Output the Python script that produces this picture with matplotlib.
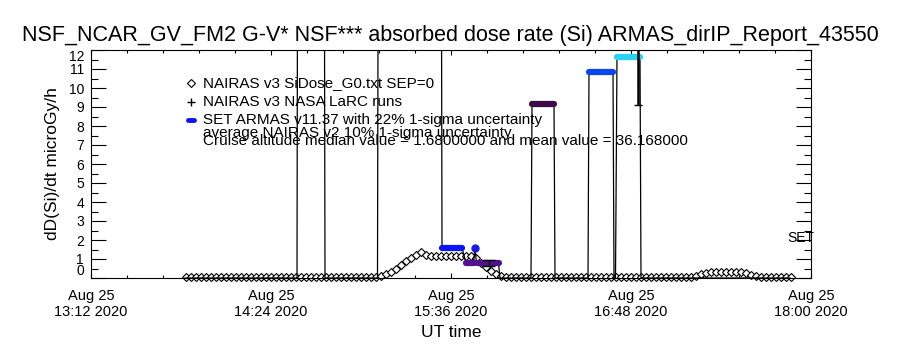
import numpy as np
import matplotlib
matplotlib.use('Agg')
import matplotlib.pyplot as plt
from matplotlib.ticker import MultipleLocator

plt.rcParams['font.family'] = ['Liberation Sans', 'DejaVu Sans']

# time in minutes after 13:12 UT, Aug 25 2020
x_ticks = [0, 72, 144, 216, 288]
x_tick_labels = ['Aug 25\n13:12 2020', 'Aug 25\n14:24 2020', 'Aug 25\n15:36 2020',
                 'Aug 25\n16:48 2020', 'Aug 25\n18:00 2020']
y_ticks = list(range(0, 13))

# NAIRAS v3 SiDose_G0 model, every 2 minutes from t=38 to t=280
nairas_t = np.arange(38, 281, 2)
nairas_v = [0.05, 0.05, 0.05, 0.05, 0.05, 0.05, 0.05, 0.05, 0.05, 0.05,
            0.05, 0.05, 0.05, 0.05, 0.05, 0.05, 0.05, 0.05, 0.05, 0.05,
            0.05, 0.05, 0.05, 0.05, 0.05, 0.05, 0.05, 0.05, 0.05, 0.05,
            0.05, 0.05, 0.05, 0.05, 0.05, 0.05, 0.05, 0.05,
            0.05, 0.12, 0.20, 0.30, 0.50, 0.70, 0.88, 1.05, 1.20, 1.35,
            1.22, 1.17, 1.16, 1.16, 1.16, 1.15, 1.15, 1.16, 1.16, 1.15,
            1.05, 0.78, 0.58, 0.38, 0.22, 0.08,
            0.05, 0.05, 0.05, 0.05, 0.05, 0.05, 0.05, 0.05, 0.05, 0.05,
            0.05, 0.05, 0.05, 0.05, 0.05, 0.05, 0.05, 0.05, 0.05, 0.05,
            0.05, 0.05, 0.05, 0.05, 0.05, 0.05, 0.05, 0.05, 0.05, 0.05,
            0.05, 0.05, 0.05, 0.05, 0.05, 0.05, 0.05,
            0.06, 0.12, 0.22, 0.28, 0.31, 0.32, 0.33, 0.33, 0.33, 0.32,
            0.31, 0.26, 0.15, 0.08,
            0.05, 0.05, 0.05, 0.05, 0.05, 0.05, 0.05]

# SET ARMAS measurements (40 = off scale)
armas_t = [37.6, 82.4, 82.9, 93.0, 93.6, 114.6, 115.2, 139.8, 140.4, 148.4,
           150.0, 153.0, 153.6, 154.2, 159.2, 163.0, 163.6, 176.0, 176.4, 185.2,
           185.6, 198.8, 199.2, 208.8, 209.2, 209.8, 210.4, 219.6, 220.0, 279.6]
armas_v = [0, 0, 40, 40, 0, 0, 40, 40, 1.58, 1.58,
           0.79, 0.79, 1.58, 0.79, 0.79, 0.79, 0, 0, 9.14, 9.14,
           0, 0, 10.85, 10.85, 0, 0, 11.65, 11.65, 0, 0]
armas_c = [None, None, None, None, None, None, None, None, '#0a14f5', '#0a14f5',
           '#50128c', '#50128c', '#1a1ae6', '#50128c', '#50128c', '#50128c', None, None, '#3c0a46', '#3c0a46',
           None, None, '#0a46f0', '#0a46f0', None, None, '#28d2f0', '#28d2f0', None, None]

# points with 22% 1-sigma error bars
err_t = [159.2, 218.8]
err_v = [0.79, 11.65]
err_frac = 0.22

fig = plt.figure(figsize=(9, 3.5), dpi=100)
ax = fig.add_axes([91/900, 1 - 278/350, 720/900, 228/350])

ax.plot(nairas_t, nairas_v, ls='none', marker='D', ms=3.6, mfc='white',
        mec='black', mew=0.8, clip_on=False, zorder=2)
ax.plot(armas_t, armas_v, color='black', lw=0.9, zorder=3)

# coloured ARMAS segments
i = 0
while i < len(armas_t):
    c = armas_c[i]
    if c is None:
        i += 1
        continue
    j = i
    while j + 1 < len(armas_t) and armas_c[j + 1] == c:
        j += 1
    if j > i:
        ax.plot(armas_t[i:j + 1], armas_v[i:j + 1], color=c, lw=4.5,
                solid_capstyle='round', zorder=4)
    else:
        ax.plot(armas_t[i], armas_v[i], 'o', color=c, ms=5, zorder=4)
    i = j + 1

err = [v * err_frac for v in err_v]
ax.errorbar(err_t[:1], err_v[:1], yerr=err[:1], fmt='none', ecolor='black',
            elinewidth=1.0, capsize=4, capthick=1.0, zorder=5)
ax.errorbar(err_t[1:], err_v[1:], yerr=err[1:], fmt='none', ecolor='black',
            elinewidth=1.8, capsize=3, capthick=1.0, zorder=5)

ax.set_xlim(0, 288)
ax.set_ylim(0, 12)
ax.set_xticks(x_ticks)
ax.set_xticklabels(x_tick_labels)
ax.xaxis.set_minor_locator(MultipleLocator(14.4))
ax.set_yticks(y_ticks)
ax.set_yticklabels([str(v) for v in y_ticks])
ax.yaxis.set_minor_locator(MultipleLocator(0.5))
ax.tick_params(axis='y', which='major', direction='in', length=10.5, width=0.8,
               left=True, right=True, labelsize=10, pad=5)
ax.tick_params(axis='y', which='minor', direction='in', length=5, width=0.8,
               left=True, right=True)
ax.tick_params(axis='x', which='major', direction='in', length=3.6, width=0.8,
               bottom=True, top=True, labelsize=10.5, pad=8)
ax.tick_params(axis='x', which='minor', direction='in', length=2, width=0.8,
               bottom=True, top=True)
ylabs = ax.get_yticklabels()
ylabs[0].set_va('bottom')
ylabs[-1].set_va('top')
for s in ax.spines.values():
    s.set_linewidth(0.8)

ax.set_xlabel('UT time', fontsize=12.5, labelpad=4)
ax.set_ylabel('dD(Si)/dt microGy/h', fontsize=12.5, labelpad=6)
fig.text(0.5, 0.9, 'NSF_NCAR_GV_FM2 G-V* NSF*** absorbed dose rate (Si) ARMAS_dirIP_Report_43550',
         ha='center', va='center', fontsize=15.5)

# legend block
tr = ax.transAxes
ax.plot([0.139], [0.855], 'D', ms=3.6, mfc='white', mec='black', mew=0.8, transform=tr)
ax.plot([0.139], [0.772], '+', ms=6, color='black', mew=1, transform=tr)
ax.plot([0.135, 0.143], [0.693, 0.693], color='#0a14f5', lw=3.5, transform=tr,
        solid_capstyle='round')
leg_lines = ['NAIRAS v3 SiDose_G0.txt SEP=0', 'NAIRAS v3 NASA LaRC runs',
             'SET ARMAS v11.37 with 22% 1-sigma uncertainty',
             'average NAIRAS v2 10% 1-sigma uncertainty',
             'Cruise altitude median value = 1.6800000 and mean value = 36.168000']
leg_y = [0.855, 0.772, 0.693, 0.636, 0.601]
for txt, yy in zip(leg_lines, leg_y):
    ax.text(0.1556, yy, txt, transform=tr, fontsize=11, va='center', ha='left')
ax.text(0.9667, 0.175, 'SET', transform=tr, fontsize=10, va='center', ha='left')

fig.savefig('out.png', dpi=100)
